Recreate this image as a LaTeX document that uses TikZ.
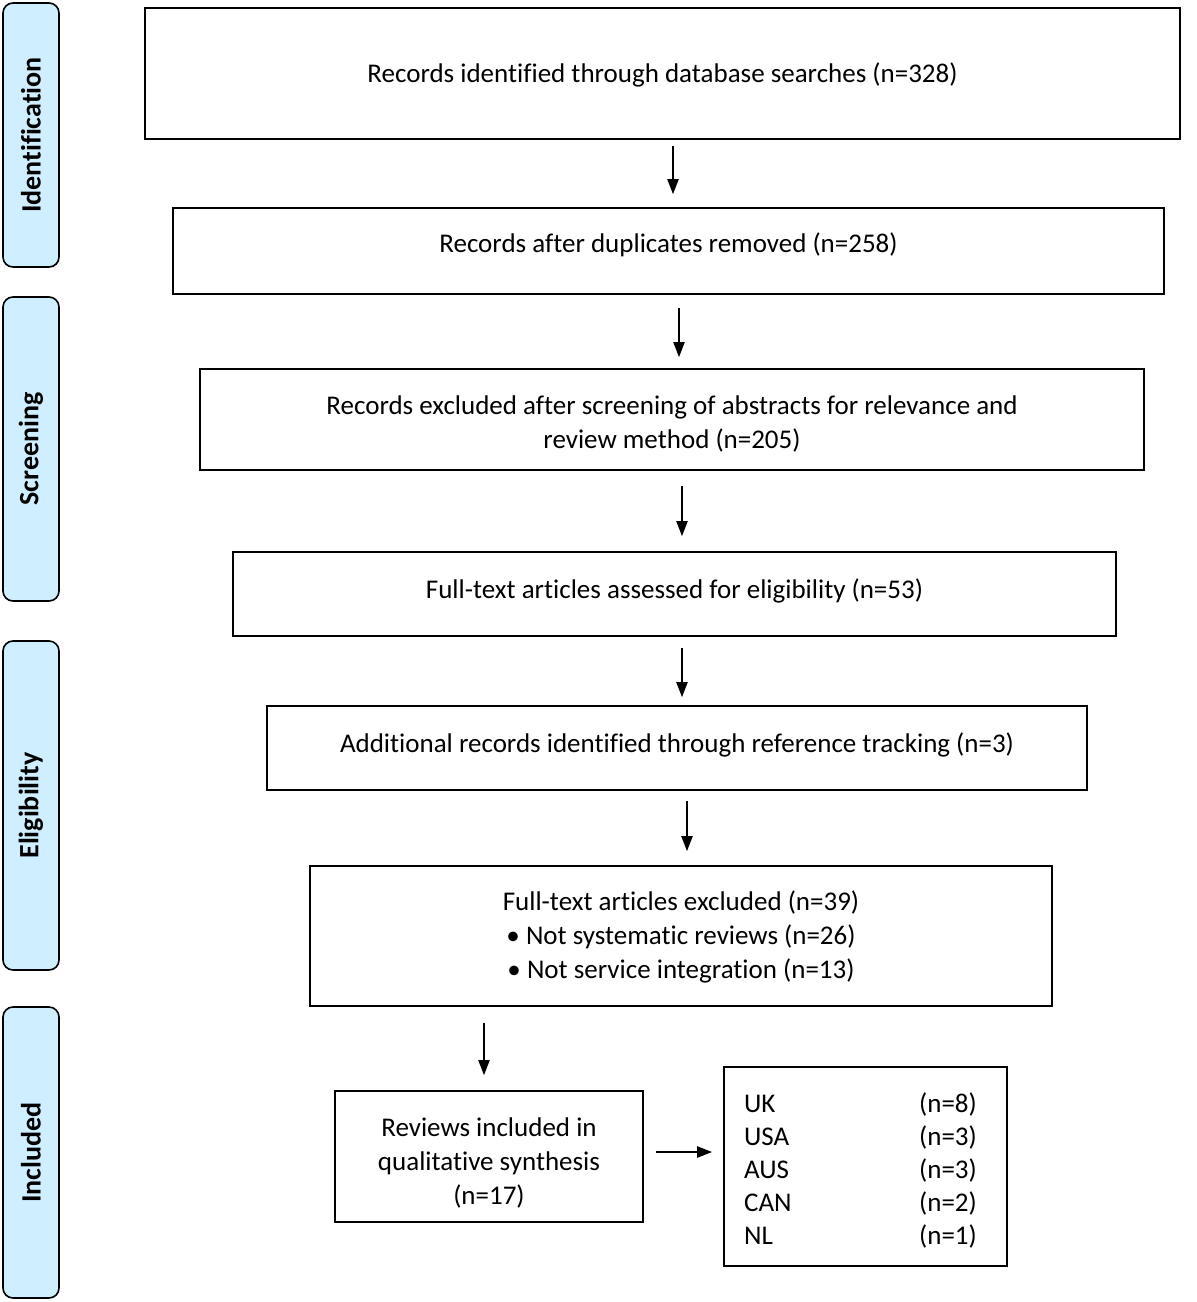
\documentclass[tikz,border=0pt]{standalone}
\usepackage{fontspec}
\setmainfont[Ligatures=CommonOff]{Carlito}
\usetikzlibrary{arrows.meta}
\definecolor{sideblue}{RGB}{207,238,255}
\newcommand{\shiftt}[2]{\raisebox{#1}[\height][\depth]{#2}}
\newcommand{\mlines}[2]{\raisebox{#1}[\height][\depth]{\begin{tabular}{@{}c@{}}#2\end{tabular}}}
\begin{document}
\begin{tikzpicture}[x=0.5pt,y=-0.5pt,
 box/.style={draw,line width=0.8pt,font=\fontsize{13.5}{17}\selectfont,align=center,inner sep=0pt},
 side/.style={draw,line width=0.8pt,rounded corners=5pt,fill=sideblue,inner sep=0pt,rotate=90,font=\fontsize{14}{17}\selectfont\bfseries},
 arr/.style={line width=1pt,-{Triangle[length=7.5pt,width=5.5pt]}}]
\useasboundingbox (0,0) rectangle (1196,1302);
% side labels
\node[side,minimum width=132pt,minimum height=28pt] (sid) at (31,135) {Identification};
\node[side,minimum width=152pt,minimum height=28pt] (ssc) at (31,449) {Screening};
\node[side,minimum width=164.5pt,minimum height=28pt] (sel) at (31,805.5) {Eligibility};
\node[side,minimum width=145.5pt,minimum height=28pt] (sin) at (31,1152.5) {Included};
% main boxes
\node[box,minimum width=517.5pt,minimum height=65.5pt] (b1) at (662.5,73.5) {\shiftt{-0.5pt}{Records identified through database searches (n=328)}};
\node[box,minimum width=495.5pt,minimum height=43pt] (b2) at (668.5,251) {\shiftt{3pt}{Records after duplicates removed (n=258)}};
\node[box,minimum width=472pt,minimum height=50.5pt] (b3) at (672,419.5) {\mlines{-2.5pt}{Records excluded after screening of abstracts for relevance and\\ review method (n=205)}};
\node[box,minimum width=441.5pt,minimum height=42pt] (b4) at (674.5,594) {\shiftt{1.5pt}{Full-text articles assessed for eligibility (n=53)}};
\node[box,minimum width=410pt,minimum height=42pt] (b5) at (677,748) {\shiftt{1.5pt}{Additional records identified through reference tracking (n=3)}};
\node[box,minimum width=371pt,minimum height=70pt] (b6) at (681,936) {\mlines{-1pt}{Full-text articles excluded (n=39)\\ • Not systematic reviews (n=26)\\ • Not service integration (n=13)}};
\node[box,minimum width=154pt,minimum height=65.5pt] (b7) at (489,1156.5) {\mlines{-3.5pt}{Reviews included in\\ qualitative synthesis\\ (n=17)}};
\node[box,minimum width=141.5pt,minimum height=99.5pt] (b8) at (865.5,1166.5) {\raisebox{-2.5pt}[\height][\depth]{\def\arraystretch{0.97}\begin{tabular}{@{}p{87.5pt}@{}l@{}}UK & (n=8)\\ USA & (n=3)\\ AUS & (n=3)\\ CAN & (n=2)\\ NL & (n=1)\end{tabular}}\hspace{5pt}};
% arrows
\draw[arr,shorten <=3pt,shorten >=6.5pt] ([xshift=5.25pt]b1.south) -- ([xshift=2.25pt]b2.north);
\draw[arr,shorten <=6.5pt,shorten >=5.5pt] ([xshift=5.25pt]b2.south) -- ([xshift=3.5pt]b3.north);
\draw[arr,shorten <=7.5pt,shorten >=7.5pt] ([xshift=5pt]b3.south) -- ([xshift=3.75pt]b4.north);
\draw[arr,shorten <=5.5pt,shorten >=4pt] ([xshift=3.75pt]b4.south) -- ([xshift=2.5pt]b5.north);
\draw[arr,shorten <=5pt,shorten >=7pt] ([xshift=5pt]b5.south) -- ([xshift=3pt]b6.north);
\draw[arr,shorten <=8pt,shorten >=7.5pt] ([xshift=-98.5pt]b6.south) -- ([xshift=-2.5pt]b7.north);
\draw[arr,shorten <=6pt,shorten >=5.5pt] ([yshift=2.25pt]b7.east) -- ([yshift=7.25pt]b8.west);
\end{tikzpicture}
\end{document}
